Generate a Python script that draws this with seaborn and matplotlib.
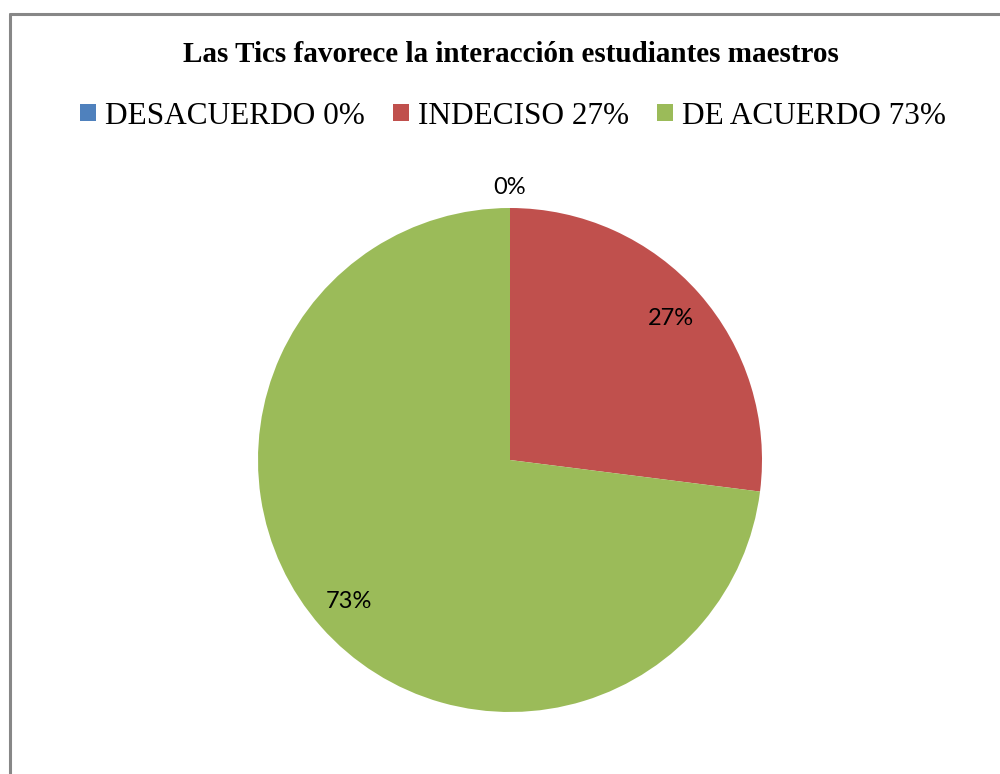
import matplotlib
matplotlib.use("Agg")
import matplotlib.pyplot as plt
import seaborn as sns
import numpy as np
from matplotlib.lines import Line2D
from matplotlib.patches import Patch

# data
categories = ['DESACUERDO', 'INDECISO', 'DE ACUERDO']
values = [0, 27, 73]
colors = ['#4F81BD', '#C0504D', '#9BBB59']
title = 'Las Tics favorece la interacción estudiantes maestros'

sns.set_theme(style="white")
plt.rcParams['font.family'] = ['Liberation Serif', 'DejaVu Serif']
plt.rcParams['text.color'] = 'black'

fig = plt.figure(figsize=(10, 7.74), dpi=100)

# pie axes: center (510, 460) px, radius 252 px
cx, cy, r = 510, 460, 252
ax = fig.add_axes([(cx - r) / 1000, (774 - cy - r) / 774, 2 * r / 1000, 2 * r / 774])
wedges, texts, autotexts = ax.pie(
    values, colors=colors, startangle=90, counterclock=False,
    autopct='%.0f%%', pctdistance=0.85, radius=1,
    wedgeprops=dict(linewidth=0),
    textprops=dict(family='Lato', fontsize=17, color='black'),
)
# zero slice label sits just outside the top of the pie
autotexts[0].set_position((0, 1.08))
autotexts[0].set_va('center')
ax.set_xlim(-1, 1)
ax.set_ylim(-1, 1)
ax.set_aspect('equal')
ax.axis('off')

fig.text(0.511, 1 - 55 / 774, title, ha='center', va='center',
         fontsize=21, fontweight='bold', color='black')

handles = [Patch(facecolor=c, edgecolor='none') for c in colors]
labels = [f'{c} {v}%' for c, v in zip(categories, values)]
fig.legend(handles, labels, loc='center', bbox_to_anchor=(0.513, 1 - 116 / 774),
           ncol=3, frameon=False, fontsize=22.5, handlelength=0.5, handleheight=0.5,
           handletextpad=0.3, columnspacing=0.9, labelcolor='black')

# chart border (top and left visible)
fig.add_artist(Line2D([9.5 / 1000, 1], [1 - 14 / 774] * 2, color='#878787', lw=2.2))
fig.add_artist(Line2D([9.5 / 1000] * 2, [0, 1 - 14 / 774], color='#878787', lw=2.2))

fig.savefig('out.png', dpi=100, facecolor='white')
